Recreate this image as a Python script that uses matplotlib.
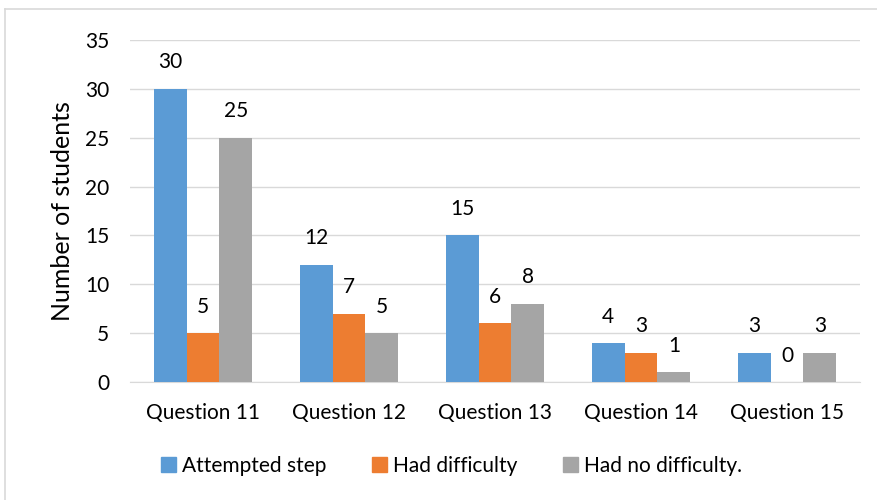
import matplotlib
matplotlib.use("Agg")
import matplotlib.pyplot as plt
import numpy as np
from matplotlib.patches import Rectangle
from matplotlib.lines import Line2D

categories = ["Question 11", "Question 12", "Question 13", "Question 14", "Question 15"]
series_names = ["Attempted step", "Had difficulty", "Had no difficulty."]
attempted = [30, 12, 15, 4, 3]
difficulty = [5, 7, 6, 3, 0]
no_difficulty = [25, 5, 8, 1, 3]
y_ticks = [0, 5, 10, 15, 20, 25, 30, 35]

colors = ["#5B9BD5", "#ED7D31", "#A5A5A5"]

plt.rcParams["font.family"] = ["Lato", "DejaVu Sans"]

fig = plt.figure(figsize=(8.77, 5.0), dpi=100)
ax = fig.add_axes([130 / 877, 1 - 382 / 500, 730 / 877, 342 / 500])

x = np.arange(len(categories))
w = 0.226
for i, (vals, c) in enumerate(zip([attempted, difficulty, no_difficulty], colors)):
    pos = x + (i - 1) * w
    ax.bar(pos, vals, width=w, color=c, zorder=3)
    for p, v in zip(pos, vals):
        ax.annotate(str(v), (p, v), xytext=(0, 19), textcoords="offset points",
                    ha="center", va="center", fontsize=15, color="#000000")

ax.set_xlim(-0.5, len(categories) - 0.5)
ax.set_ylim(0, 35)
ax.set_yticks(y_ticks)
ax.set_xticks(x)
ax.set_xticklabels(categories, fontsize=15)
ax.tick_params(axis="y", labelsize=15, length=0, pad=15)
ax.tick_params(axis="x", length=0, pad=15)
ax.yaxis.grid(True, color="#D9D9D9", linewidth=1, zorder=0)
for s in ["top", "right", "left"]:
    ax.spines[s].set_visible(False)
ax.spines["bottom"].set_color("#D9D9D9")
ax.set_ylabel("Number of students", fontsize=18, labelpad=8)

handles = [Rectangle((0, 0), 1, 1, color=c) for c in colors]
fig.legend(handles, series_names, loc="center", bbox_to_anchor=(0.515, 1 - 466 / 500),
           ncol=3, frameon=False, fontsize=15, handlelength=0.7, handleheight=0.7,
           handletextpad=0.3, columnspacing=2.2)

# outer chart border
fig.add_artist(Line2D([5 / 877, 5 / 877], [0, 1 - 9 / 500], transform=fig.transFigure,
                      color="#D9D9D9", linewidth=1.2))
fig.add_artist(Line2D([5 / 877, 1], [1 - 9 / 500, 1 - 9 / 500], transform=fig.transFigure,
                      color="#D9D9D9", linewidth=1.2))

fig.savefig("out.png", dpi=100)
